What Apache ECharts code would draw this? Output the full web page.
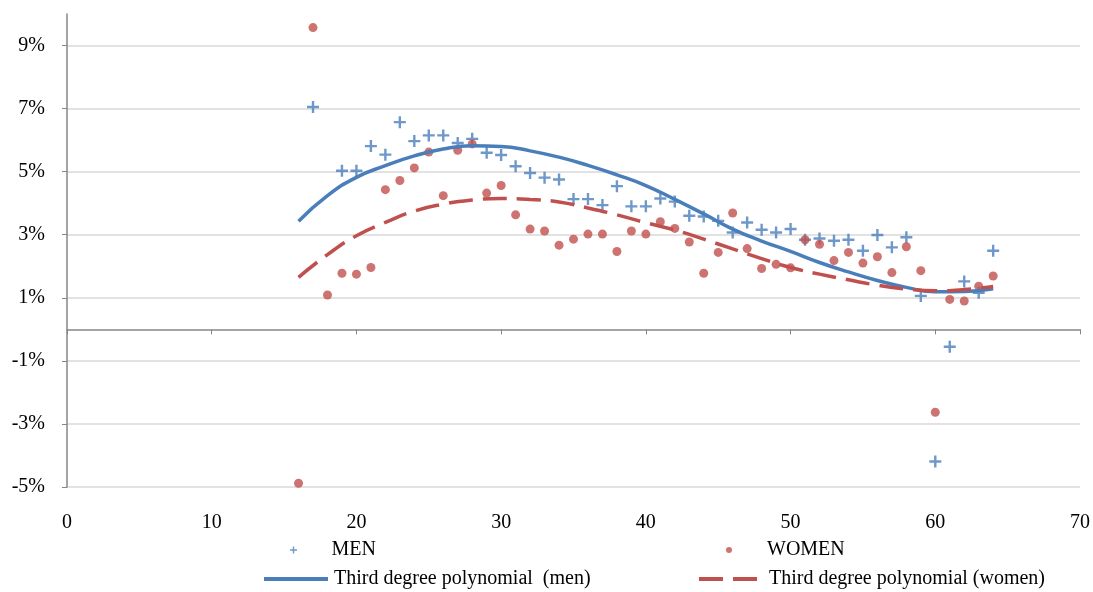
<!DOCTYPE html>
<html>
<head>
<meta charset="utf-8">
<script src="https://cdn.jsdelivr.net/npm/echarts@6/dist/echarts.min.js"></script>
<style>
  html, body { margin: 0; padding: 0; background: #fff; }
  #chart { width: 1093px; height: 592px; }
</style>
</head>
<body>
<div id="chart"></div>
<script>
// ages on the x axis
const ages = [16, 17, 18, 19, 20, 21, 22, 23, 24, 25, 26, 27, 28, 29, 30, 31, 32, 33, 34, 35, 36, 37, 38, 39, 40,
  41, 42, 43, 44, 45, 46, 47, 48, 49, 50, 51, 52, 53, 54, 55, 56, 57, 58, 59, 60, 61, 62, 63, 64]

// observed values (%)
const menValues = [null, 7.05, null, 5.03, 5.03, 5.81, 5.54, 6.57, 5.97, 6.15, 6.15, 5.91, 6.04, 5.60, 5.53,
  5.17, 4.96, 4.81, 4.75, 4.13, 4.13, 3.94, 4.54, 3.90, 3.90, 4.15, 4.05, 3.60, 3.58, 3.44, 3.07, 3.39, 3.16,
  3.07, 3.18, 2.84, 2.88, 2.81, 2.84, 2.49, 2.99, 2.60, 2.92, 1.06, -4.19, -0.55, 1.52, 1.16, 2.49]
const womenValues = [-4.88, 9.57, 1.09, 1.78, 1.75, 1.96, 4.43, 4.72, 5.12, 5.62, 4.24, 5.68, 5.88, 4.32, 4.56,
  3.63, 3.18, 3.12, 2.67, 2.86, 3.02, 3.02, 2.47, 3.12, 3.02, 3.41, 3.20, 2.77, 1.78, 2.44, 3.69, 2.56, 1.93,
  2.06, 1.95, 2.84, 2.70, 2.18, 2.44, 2.10, 2.30, 1.80, 2.62, 1.86, -2.63, 0.95, 0.90, 1.37, 1.69]

// trend lines
const trendAges = [16, 18, 20, 22, 24, 26, 28, 30, 32, 34, 36, 38, 40, 42, 44, 46, 48, 50, 52, 54, 56, 58, 60, 62, 64]
const menTrend = [3.43, 4.24, 4.82, 5.19, 5.50, 5.72, 5.82, 5.80, 5.66, 5.46, 5.20, 4.90, 4.56, 4.12, 3.66,
  3.18, 2.80, 2.47, 2.12, 1.82, 1.55, 1.33, 1.19, 1.20, 1.29]
const womenTrend = [1.65, 2.37, 2.97, 3.39, 3.75, 3.97, 4.10, 4.15, 4.12, 4.04, 3.85, 3.63, 3.38, 3.15, 2.86,
  2.55, 2.24, 1.96, 1.75, 1.57, 1.40, 1.28, 1.22, 1.26, 1.36]

const yTicks = [-5, -3, -1, 1, 3, 5, 7, 9]

const blue = '#4a7ebb'
const red = '#c0504d'
const font = "'Liberation Serif', 'Times New Roman', serif"
const plusPath = 'path://M4,0H6V4H10V6H6V10H4V6H0V4H4Z'

const pairs = (xs, ys) => xs.map((x, i) => [x, ys[i]]).filter((p) => p[1] !== null)

const chart = echarts.init(document.getElementById('chart'), null, { renderer: 'canvas' })

const legendBase = {
  orient: 'horizontal',
  padding: 0,
  itemWidth: 64,
  itemGap: 0,
  textStyle: { fontFamily: font, fontSize: 20, color: '#000', padding: [0, 0, 0, 1] }
}

chart.setOption({
  animation: false,
  grid: { left: 67, right: 13, top: 14, bottom: 105 },
  legend: [
    Object.assign({}, legendBase, { left: 290, top: 540, itemHeight: 7, data: ['MEN'] }),
    Object.assign({}, legendBase, { left: 726, top: 540, itemHeight: 6, data: ['WOMEN'] }),
    Object.assign({}, legendBase, {
      left: 262, top: 569, itemHeight: 14, itemStyle: { opacity: 0 }, lineStyle: { width: 4 },
      data: ['Third degree polynomial  (men)']
    }),
    Object.assign({}, legendBase, {
      left: 697, top: 569, itemHeight: 14, itemStyle: { opacity: 0 }, lineStyle: { width: 4 },
      data: ['Third degree polynomial (women)']
    })
  ],
  xAxis: [
    {
      type: 'value',
      min: 0,
      max: 70,
      interval: 10,
      axisLine: { show: true, onZero: true, lineStyle: { color: '#868686', width: 1.5 } },
      axisTick: { show: true, length: 5, lineStyle: { color: '#868686' } },
      axisLabel: { show: false },
      splitLine: { show: false }
    },
    {
      type: 'value',
      position: 'bottom',
      min: 0,
      max: 70,
      interval: 10,
      axisLine: { show: false, onZero: false },
      axisTick: { show: false },
      axisLabel: { margin: 26, fontFamily: font, fontSize: 20, color: '#000' },
      splitLine: { show: false }
    }
  ],
  yAxis: {
    type: 'value',
    min: -5,
    max: 10,
    interval: 2,
    axisLine: { show: true, lineStyle: { color: '#868686', width: 1.5 } },
    axisTick: { show: true, length: 5, customValues: yTicks, lineStyle: { color: '#868686' } },
    axisLabel: {
      customValues: yTicks,
      margin: 22,
      fontFamily: font,
      fontSize: 20,
      color: '#000',
      formatter: (v) => v + '%'
    },
    splitLine: {
      show: true,
      lineStyle: {
        color: ['#d9d9d9', '#d9d9d9', '#d9d9d9', '#d9d9d9', '#d9d9d9', '#d9d9d9', '#d9d9d9', '#d9d9d9', 'rgba(0,0,0,0)'],
        width: 1.5
      }
    }
  },
  series: [
    {
      name: 'MEN',
      type: 'scatter',
      xAxisIndex: 0,
      symbol: plusPath,
      symbolSize: 12,
      itemStyle: { color: blue },
      data: pairs(ages, menValues)
    },
    {
      name: 'WOMEN',
      type: 'scatter',
      xAxisIndex: 0,
      symbol: 'circle',
      symbolSize: 9,
      itemStyle: { color: red },
      data: pairs(ages, womenValues)
    },
    {
      name: 'Third degree polynomial  (men)',
      type: 'line',
      xAxisIndex: 0,
      smooth: true,
      symbol: 'none',
      lineStyle: { color: blue, width: 3.5 },
      itemStyle: { color: blue },
      data: pairs(trendAges, menTrend)
    },
    {
      name: 'Third degree polynomial (women)',
      type: 'line',
      xAxisIndex: 0,
      smooth: true,
      symbol: 'none',
      lineStyle: { color: red, width: 3.5, type: [24, 10] },
      itemStyle: { color: red },
      data: pairs(trendAges, womenTrend)
    }
  ]
})
</script>
</body>
</html>
